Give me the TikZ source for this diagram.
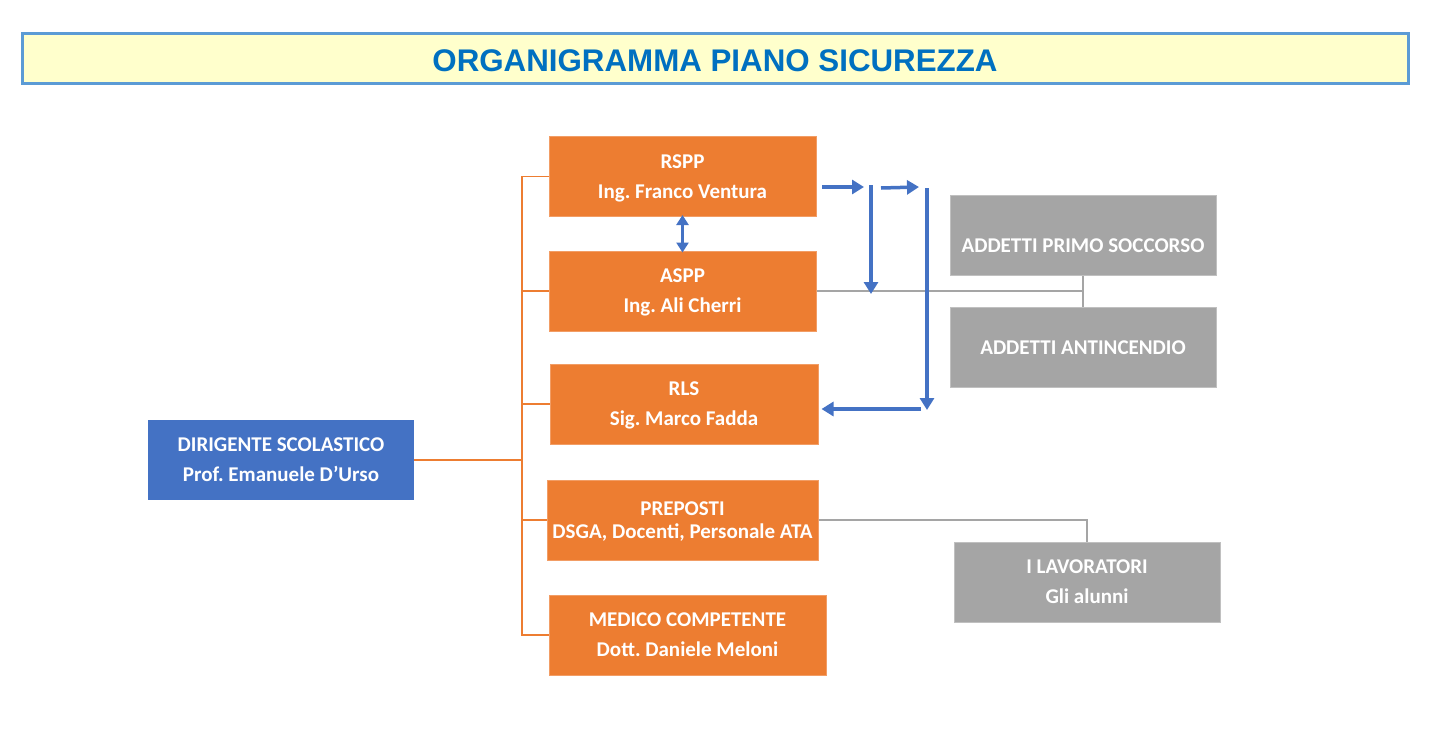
\documentclass[tikz,border=0pt]{standalone}
\usepackage{fontspec}
\setmainfont{Carlito}
\newfontfamily\titlefont{Liberation Sans}
\usetikzlibrary{arrows.meta}
\definecolor{orangeC}{HTML}{ED7D31}
\definecolor{blueC}{HTML}{4472C4}
\definecolor{grayC}{HTML}{A5A5A5}
\definecolor{titleblue}{HTML}{0070C0}
\definecolor{titlefill}{HTML}{FFFFCC}
\definecolor{titleborder}{HTML}{5B9BD5}
\tikzset{
  boxtext/.style={inner sep=0pt, align=center, text=white,
    font=\frenchspacing\fontsize{21}{30}\selectfont\bfseries},
  box/.style={boxtext, minimum width=#1, minimum height=80pt, text depth=-1pt},
  obox/.style={box=#1, fill=orangeC, draw=orangeC!75!white, line width=1pt},
  gbox/.style={box=#1, fill=grayC, draw=grayC!70!white, line width=1pt},
  bbox/.style={box=#1, fill=blueC},
  oline/.style={draw=orangeC, line width=1.3pt},
  gline/.style={draw=grayC, line width=1.3pt},
  barrow/.style={draw=blueC, line width=3.5pt, -{Triangle[width=14pt,length=12pt]}},
}
\begin{document}
\begin{tikzpicture}[x=1pt,y=-1pt]
\useasboundingbox (0,0) rectangle (1436,731);
% title
\node[draw=titleborder, line width=3pt, fill=titlefill, minimum width=1386pt, minimum height=50pt,
  inner sep=0pt] (titlebox) at (715,58) {};
\node[inner sep=0pt, text=titleblue, font=\titlefont\fontsize{31.3}{32}\selectfont\bfseries]
  (title) at ([yshift=-2.5pt]titlebox.center) {ORGANIGRAMMA PIANO SICUREZZA};
% nodes
\node[bbox=266pt] (dir) at (281,460) {DIRIGENTE SCOLASTICO\\ Prof. Emanuele D’Urso};
\node[obox=267pt] (rspp) at (682.5,176.5) {RSPP\\ Ing. Franco Ventura};
\node[obox=267pt] (aspp) at (682.5,291) {ASPP\\ Ing. Ali Cherri};
\node[obox=268pt] (rls) at (684,404) {RLS\\ Sig. Marco Fadda};
\node[obox=271pt, font=\frenchspacing\fontsize{21}{23}\selectfont\bfseries] (prep) at (682.5,520) {PREPOSTI\\ DSGA, Docenti, Personale ATA};
\node[obox=277pt] (med) at (687.5,635) {MEDICO COMPETENTE\\ Dott. Daniele Meloni};
\node[gbox=266pt] (ps) at (1083,235.5) {};
\node[boxtext] (pstext) at ([yshift=-10pt]ps.center) {ADDETTI PRIMO SOCCORSO};
\node[gbox=266pt] (anti) at (1083,347.5) {ADDETTI ANTINCENDIO};
\node[gbox=266pt] (lav) at (1087,582) {I LAVORATORI\\ Gli alunni};
% orange connectors
\coordinate (bus) at (522,460);
\draw[oline] (dir.east) -- (bus);
\foreach \n in {rspp,aspp,rls,prep,med}{
  \draw[oline] (bus) |- (\n.west);
}
% gray connectors
\draw[gline] (ps.south) -- (anti.north);
\draw[gline] (aspp.east) -- (aspp.east -| ps.south);
\draw[gline] (prep.east) -| (lav.north);
% blue arrows
\draw[draw=blueC, line width=3.5pt, {Triangle[width=12pt,length=10pt]}-{Triangle[width=12pt,length=10pt]}]
  ([yshift=2pt]rspp.south) -- ([yshift=-2pt]aspp.north);
\coordinate (a1s) at (822,187);
\coordinate (a1e) at (864,187);
\coordinate (v1s) at (871,185);
\coordinate (v1e) at (871,294);
\coordinate (a2s) at (881,188);
\coordinate (a2e) at (919,187);
\coordinate (v2s) at (927,188);
\coordinate (v2e) at (927,410);
\coordinate (a3s) at (921,409);
\draw[barrow] (a1s) -- (a1e);
\draw[barrow] (v1s) -- (v1e);
\draw[barrow] (a2s) -- (a2e);
\draw[barrow] (v2s) -- (v2e);
\draw[barrow] (a3s) -- ([xshift=3pt]rls.east |- a3s);
\end{tikzpicture}
\end{document}
